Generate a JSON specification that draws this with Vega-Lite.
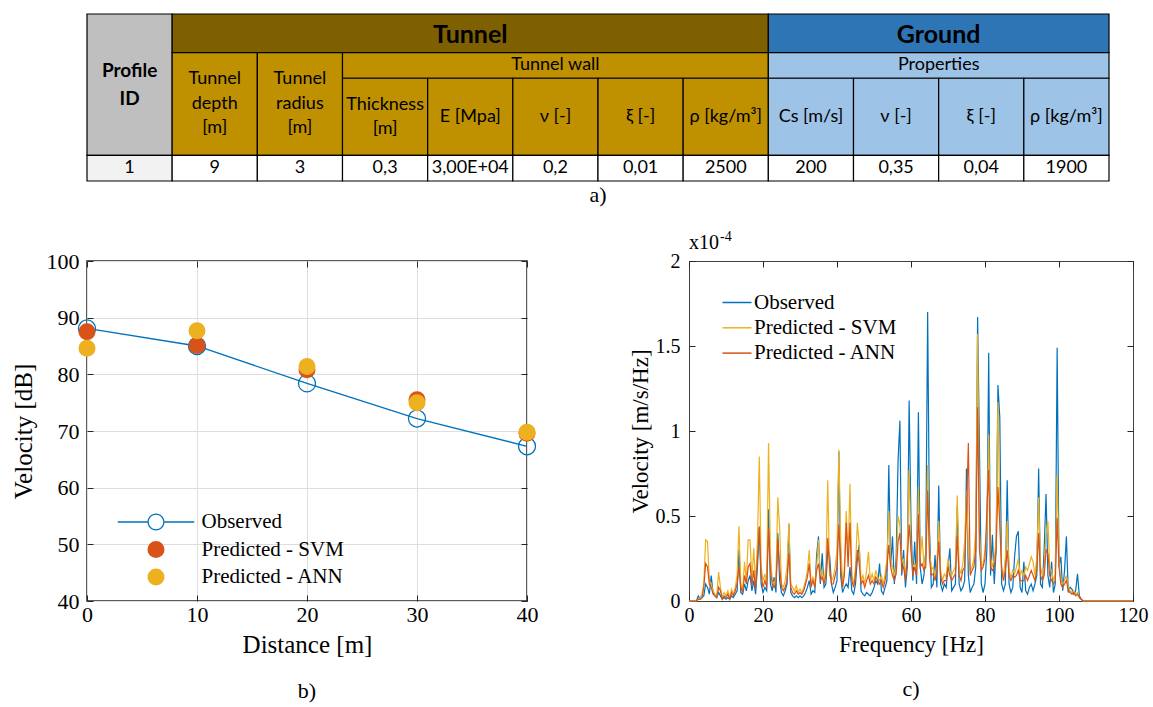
{
  "$schema": "https://vega.github.io/schema/vega-lite/v6.json",
  "background": "white",
  "padding": {"left": 10, "top": 13, "right": 5, "bottom": 0},
  "bounds": "flush",
  "spacing": 80,
  "config": {
    "view": {"stroke": null},
    "font": "Liberation Serif",
    "axis": {"labelFont": "Liberation Serif", "titleFont": "Liberation Serif", "labelColor": "#000000", "titleColor": "#000000", "titleFontWeight": "normal", "domain": false, "tickColor": "#262626", "tickWidth": 1, "tickSize": -6, "grid": false, "labelFlush": false, "labelOverlap": false},
    "legend": {"labelFont": "Liberation Serif", "labelColor": "#000000"},
    "title": {"font": "Liberation Serif", "fontWeight": "normal", "color": "#000000"}
  },
  "vconcat": [
    {
      "width": 1022,
      "height": 167,
      "title": {"text": "a)", "orient": "bottom", "offset": 3, "fontSize": 22, "font": "Liberation Serif"},
      "data": {"values": [
        {"c0": 0, "c1": 1, "r0": 0, "r1": 5.5, "cx": 0.5, "cy": 2.75, "kind": "id", "role": "id", "t": "Profile\nID"},
        {"c0": 1, "c1": 8, "r0": 0, "r1": 1.5, "cx": 4.5, "cy": 0.75, "kind": "tt", "role": "big", "t": "Tunnel"},
        {"c0": 8, "c1": 12, "r0": 0, "r1": 1.5, "cx": 10, "cy": 0.75, "kind": "gt", "role": "big", "t": "Ground"},
        {"c0": 1, "c1": 2, "r0": 1.5, "r1": 5.5, "cx": 1.5, "cy": 3.5, "kind": "t", "role": "n3", "t": "Tunnel\ndepth\n[m]"},
        {"c0": 2, "c1": 3, "r0": 1.5, "r1": 5.5, "cx": 2.5, "cy": 3.5, "kind": "t", "role": "n3", "t": "Tunnel\nradius\n[m]"},
        {"c0": 3, "c1": 8, "r0": 1.5, "r1": 2.5, "cx": 5.5, "cy": 2, "kind": "t", "role": "n", "t": "Tunnel wall"},
        {"c0": 8, "c1": 12, "r0": 1.5, "r1": 2.5, "cx": 10, "cy": 2, "kind": "g", "role": "n", "t": "Properties"},
        {"c0": 3, "c1": 4, "r0": 2.5, "r1": 5.5, "cx": 3.5, "cy": 4, "kind": "t", "role": "n2", "t": "Thickness\n[m]"},
        {"c0": 4, "c1": 5, "r0": 2.5, "r1": 5.5, "cx": 4.5, "cy": 4, "kind": "t", "role": "n", "t": "E [Mpa]"},
        {"c0": 5, "c1": 6, "r0": 2.5, "r1": 5.5, "cx": 5.5, "cy": 4, "kind": "t", "role": "n", "t": "ν [-]"},
        {"c0": 6, "c1": 7, "r0": 2.5, "r1": 5.5, "cx": 6.5, "cy": 4, "kind": "t", "role": "n", "t": "ξ [-]"},
        {"c0": 7, "c1": 8, "r0": 2.5, "r1": 5.5, "cx": 7.5, "cy": 4, "kind": "t", "role": "n", "t": "ρ [kg/m³]"},
        {"c0": 8, "c1": 9, "r0": 2.5, "r1": 5.5, "cx": 8.5, "cy": 4, "kind": "g", "role": "n", "t": "Cs [m/s]"},
        {"c0": 9, "c1": 10, "r0": 2.5, "r1": 5.5, "cx": 9.5, "cy": 4, "kind": "g", "role": "n", "t": "ν [-]"},
        {"c0": 10, "c1": 11, "r0": 2.5, "r1": 5.5, "cx": 10.5, "cy": 4, "kind": "g", "role": "n", "t": "ξ [-]"},
        {"c0": 11, "c1": 12, "r0": 2.5, "r1": 5.5, "cx": 11.5, "cy": 4, "kind": "g", "role": "n", "t": "ρ [kg/m³]"},
        {"c0": 0, "c1": 1, "r0": 5.5, "r1": 6.5, "cx": 0.5, "cy": 6, "kind": "v0", "role": "n", "t": "1"},
        {"c0": 1, "c1": 2, "r0": 5.5, "r1": 6.5, "cx": 1.5, "cy": 6, "kind": "v", "role": "n", "t": "9"},
        {"c0": 2, "c1": 3, "r0": 5.5, "r1": 6.5, "cx": 2.5, "cy": 6, "kind": "v", "role": "n", "t": "3"},
        {"c0": 3, "c1": 4, "r0": 5.5, "r1": 6.5, "cx": 3.5, "cy": 6, "kind": "v", "role": "n", "t": "0,3"},
        {"c0": 4, "c1": 5, "r0": 5.5, "r1": 6.5, "cx": 4.5, "cy": 6, "kind": "v", "role": "n", "t": "3,00E+04"},
        {"c0": 5, "c1": 6, "r0": 5.5, "r1": 6.5, "cx": 5.5, "cy": 6, "kind": "v", "role": "n", "t": "0,2"},
        {"c0": 6, "c1": 7, "r0": 5.5, "r1": 6.5, "cx": 6.5, "cy": 6, "kind": "v", "role": "n", "t": "0,01"},
        {"c0": 7, "c1": 8, "r0": 5.5, "r1": 6.5, "cx": 7.5, "cy": 6, "kind": "v", "role": "n", "t": "2500"},
        {"c0": 8, "c1": 9, "r0": 5.5, "r1": 6.5, "cx": 8.5, "cy": 6, "kind": "v", "role": "n", "t": "200"},
        {"c0": 9, "c1": 10, "r0": 5.5, "r1": 6.5, "cx": 9.5, "cy": 6, "kind": "v", "role": "n", "t": "0,35"},
        {"c0": 10, "c1": 11, "r0": 5.5, "r1": 6.5, "cx": 10.5, "cy": 6, "kind": "v", "role": "n", "t": "0,04"},
        {"c0": 11, "c1": 12, "r0": 5.5, "r1": 6.5, "cx": 11.5, "cy": 6, "kind": "v", "role": "n", "t": "1900"}
      ]},
      "layer": [
        {
          "mark": {"type": "rect", "stroke": "#000000", "strokeWidth": 1.2},
          "encoding": {
            "x": {"field": "c0", "type": "quantitative", "scale": {"domain": [0, 12], "nice": false}, "axis": null},
            "x2": {"field": "c1"},
            "y": {"field": "r0", "type": "quantitative", "scale": {"domain": [0, 6.5], "nice": false, "zero": false, "reverse": true}, "axis": null},
            "y2": {"field": "r1"},
            "fill": {"field": "kind", "type": "nominal", "scale": {"domain": ["id", "tt", "t", "gt", "g", "v0", "v"], "range": ["#bfbfbf", "#7f6000", "#bf9000", "#2e75b6", "#9dc3e6", "#f2f2f2", "#ffffff"]}, "legend": null}
          }
        },
        {
          "transform": [{"filter": "datum.role == 'n'"}],
          "mark": {"type": "text", "font": "Lato", "fontSize": 18, "align": "center", "baseline": "middle", "color": "#000000"},
          "encoding": {
            "x": {"field": "cx", "type": "quantitative"},
            "y": {"field": "cy", "type": "quantitative"},
            "text": {"field": "t"}
          }
        },
        {
          "transform": [{"filter": "datum.role == 'n2'"}],
          "mark": {"type": "text", "font": "Lato", "fontSize": 18, "lineBreak": "\n", "lineHeight": 24.5, "dy": -12.25, "align": "center", "baseline": "middle", "color": "#000000"},
          "encoding": {
            "x": {"field": "cx", "type": "quantitative"},
            "y": {"field": "cy", "type": "quantitative"},
            "text": {"field": "t"}
          }
        },
        {
          "transform": [{"filter": "datum.role == 'n3'"}],
          "mark": {"type": "text", "font": "Lato", "fontSize": 18, "lineBreak": "\n", "lineHeight": 24.5, "dy": -24.5, "align": "center", "baseline": "middle", "color": "#000000"},
          "encoding": {
            "x": {"field": "cx", "type": "quantitative"},
            "y": {"field": "cy", "type": "quantitative"},
            "text": {"field": "t"}
          }
        },
        {
          "transform": [{"filter": "datum.role == 'id'"}],
          "mark": {"type": "text", "font": "Lato", "fontSize": 19, "fontWeight": "bold", "lineBreak": "\n", "lineHeight": 28, "dy": -14, "align": "center", "baseline": "middle", "color": "#000000"},
          "encoding": {
            "x": {"field": "cx", "type": "quantitative"},
            "y": {"field": "cy", "type": "quantitative"},
            "text": {"field": "t"}
          }
        },
        {
          "transform": [{"filter": "datum.role == 'big'"}],
          "mark": {"type": "text", "font": "Lato", "fontSize": 25, "fontWeight": "bold", "align": "center", "baseline": "middle", "dy": 2, "color": "#000000"},
          "encoding": {
            "x": {"field": "cx", "type": "quantitative"},
            "y": {"field": "cy", "type": "quantitative"},
            "text": {"field": "t"}
          }
        }
      ]
    },
    {
      "bounds": "flush",
      "spacing": 162,
      "resolve": {"scale": {"color": "independent", "shape": "independent"}, "legend": {"color": "independent", "shape": "independent"}},
      "hconcat": [
        {
          "width": 440,
          "height": 340,
          "view": {"stroke": "#262626", "strokeWidth": 1.5},
          "title": {"text": "b)", "orient": "bottom", "offset": 24, "fontSize": 22, "font": "Liberation Serif"},
          "data": {"values": [
            {"d": 0, "k": "o", "v": 88.1}, {"d": 10, "k": "o", "v": 85.0}, {"d": 20, "k": "o", "v": 78.4}, {"d": 30, "k": "o", "v": 72.2}, {"d": 40, "k": "o", "v": 67.3},
            {"d": 0, "k": "s", "v": 87.5}, {"d": 10, "k": "s", "v": 85.1}, {"d": 20, "k": "s", "v": 80.8}, {"d": 30, "k": "s", "v": 75.5}, {"d": 40, "k": "s", "v": 69.6},
            {"d": 0, "k": "a", "v": 84.6}, {"d": 10, "k": "a", "v": 87.7}, {"d": 20, "k": "a", "v": 81.4}, {"d": 30, "k": "a", "v": 75.0}, {"d": 40, "k": "a", "v": 69.8}
          ]},
          "layer": [
            {
              "transform": [{"filter": "datum.k == 'o'"}],
              "mark": {"type": "line", "strokeWidth": 1.3},
              "encoding": {
                "x": {"field": "d", "type": "quantitative", "scale": {"domain": [0, 40], "nice": false}, "axis": {"values": [0, 10, 20, 30, 40], "title": "Distance [m]", "grid": true, "gridColor": "#dedede", "labelFontSize": 22, "labelPadding": 9, "titleFontSize": 25, "titlePadding": 7}},
                "y": {"field": "v", "type": "quantitative", "scale": {"domain": [40, 100], "nice": false, "zero": false}, "axis": {"values": [40, 50, 60, 70, 80, 90, 100], "title": "Velocity [dB]", "grid": true, "gridColor": "#dedede", "labelFontSize": 22, "labelPadding": 14, "titleFontSize": 25, "titlePadding": 10}},
                "color": {"field": "k", "type": "nominal", "scale": {"domain": ["o", "s", "a"], "range": ["#0072bd", "#d95319", "#edb120"]},
                  "legend": {"orient": "none", "legendX": 58.5, "legendY": 250.5, "title": null, "padding": 0, "symbolSize": 289, "symbolStrokeWidth": 0, "labelFontSize": 21, "labelOffset": 35, "rowPadding": 5.5, "symbolOpacity": 1,
                    "labelExpr": "datum.label == 'o' ? 'Observed' : datum.label == 's' ? 'Predicted - SVM' : 'Predicted - ANN'"}
                }
              }
            },
            {
              "transform": [{"filter": "datum.k == 'o'"}],
              "mark": {"type": "point", "filled": false, "size": 289, "strokeWidth": 1.3, "opacity": 1},
              "encoding": {
                "x": {"field": "d", "type": "quantitative", "axis": null},
                "y": {"field": "v", "type": "quantitative", "axis": null},
                "color": {"field": "k", "type": "nominal"}
              }
            },
            {
              "transform": [{"filter": "datum.k == 's'"}],
              "mark": {"type": "point", "filled": true, "size": 289, "opacity": 1},
              "encoding": {
                "x": {"field": "d", "type": "quantitative", "axis": null},
                "y": {"field": "v", "type": "quantitative", "axis": null},
                "color": {"field": "k", "type": "nominal"},
                "shape": {"field": "k", "type": "nominal", "scale": {"domain": ["o", "s", "a"], "range": ["M-1,0A1,1,0,1,1,1,0A1,1,0,1,1,-1,0ZM-0.85,0A0.85,0.85,0,1,0,0.85,0A0.85,0.85,0,1,0,-0.85,0ZM-4.5,-0.075L-1,-0.075L-1,0.075L-4.5,0.075ZM1,-0.075L4.5,-0.075L4.5,0.075L1,0.075Z", "circle", "circle"]}}
              }
            },
            {
              "transform": [{"filter": "datum.k == 'a'"}],
              "mark": {"type": "point", "filled": true, "size": 289, "opacity": 1},
              "encoding": {
                "x": {"field": "d", "type": "quantitative", "axis": null},
                "y": {"field": "v", "type": "quantitative", "axis": null},
                "color": {"field": "k", "type": "nominal"},
                "shape": {"field": "k", "type": "nominal"}
              }
            },
            {
              "mark": {"type": "point", "opacity": 0},
              "encoding": {
                "x": {"field": "d", "type": "quantitative", "axis": {"orient": "top", "values": [0, 10, 20, 30, 40], "labels": false, "title": null}},
                "y": {"field": "v", "type": "quantitative", "axis": {"orient": "right", "values": [40, 50, 60, 70, 80, 90, 100], "labels": false, "title": null}}
              }
            }
          ],
          "resolve": {"axis": {"x": "independent", "y": "independent"}}
        },
        {
          "width": 444,
          "height": 340,
          "view": {"stroke": "#404040", "strokeWidth": 1},
          "title": {"text": "c)", "orient": "bottom", "offset": 23, "fontSize": 22, "font": "Liberation Serif"},
          "data": {"values": [
            {"f":0,"o":0,"s":0,"a":0},{"f":2,"o":0,"s":0,"a":0},{"f":2.5,"o":0.03,"s":0.01,"a":0.01},{"f":3,"o":0.01,"s":0.02,"a":0.01},{"f":3.5,"o":0.02,"s":0.04,"a":0.02},
            {"f":4,"o":0.03,"s":0.1,"a":0.08},{"f":4.5,"o":0.1,"s":0.36,"a":0.22},{"f":5,"o":0.08,"s":0.35,"a":0.2},{"f":5.5,"o":0.04,"s":0.12,"a":0.1},{"f":6,"o":0.15,"s":0.1,"a":0.08},
            {"f":6.5,"o":0.05,"s":0.06,"a":0.04},{"f":7,"o":0.03,"s":0.04,"a":0.03},{"f":7.5,"o":0.02,"s":0.03,"a":0.02},{"f":8,"o":0.05,"s":0.17,"a":0.08},{"f":8.5,"o":0.03,"s":0.08,"a":0.06},
            {"f":9,"o":0.01,"s":0.02,"a":0.01},{"f":9.5,"o":0.02,"s":0.05,"a":0.03},{"f":10,"o":0.01,"s":0.03,"a":0.02},{"f":10.5,"o":0.02,"s":0.06,"a":0.04},{"f":11,"o":0.01,"s":0.02,"a":0.01},
            {"f":11.5,"o":0.03,"s":0.07,"a":0.05},{"f":12,"o":0.02,"s":0.04,"a":0.03},{"f":12.5,"o":0.04,"s":0.08,"a":0.06},{"f":13,"o":0.06,"s":0.15,"a":0.1},{"f":13.5,"o":0.3,"s":0.44,"a":0.2},
            {"f":14,"o":0.05,"s":0.1,"a":0.08},{"f":14.5,"o":0.04,"s":0.06,"a":0.05},{"f":15,"o":0.1,"s":0.23,"a":0.15},{"f":15.5,"o":0.06,"s":0.12,"a":0.1},{"f":16,"o":0.12,"s":0.36,"a":0.2},
            {"f":16.5,"o":0.15,"s":0.36,"a":0.22},{"f":17,"o":0.06,"s":0.12,"a":0.09},{"f":17.5,"o":0.12,"s":0.31,"a":0.18},{"f":18,"o":0.04,"s":0.1,"a":0.07},{"f":18.5,"o":0.2,"s":0.35,"a":0.25},
            {"f":19,"o":0.43,"s":0.85,"a":0.44},{"f":19.5,"o":0.1,"s":0.2,"a":0.15},{"f":20,"o":0.05,"s":0.12,"a":0.08},{"f":20.5,"o":0.08,"s":0.16,"a":0.12},{"f":21,"o":0.06,"s":0.1,"a":0.08},
            {"f":21.5,"o":0.54,"s":0.93,"a":0.43},{"f":22,"o":0.1,"s":0.28,"a":0.18},{"f":22.5,"o":0.06,"s":0.12,"a":0.1},{"f":23,"o":0.14,"s":0.1,"a":0.08},{"f":23.5,"o":0.05,"s":0.14,"a":0.1},
            {"f":24,"o":0.4,"s":0.61,"a":0.36},{"f":24.5,"o":0.12,"s":0.43,"a":0.2},{"f":25,"o":0.05,"s":0.1,"a":0.08},{"f":25.5,"o":0.03,"s":0.08,"a":0.06},{"f":26,"o":0.06,"s":0.12,"a":0.08},
            {"f":26.5,"o":0.1,"s":0.2,"a":0.12},{"f":27,"o":0.45,"s":0.46,"a":0.28},{"f":27.5,"o":0.05,"s":0.1,"a":0.08},{"f":28,"o":0.03,"s":0.08,"a":0.05},{"f":28.5,"o":0.02,"s":0.06,"a":0.04},
            {"f":29,"o":0.03,"s":0.09,"a":0.06},{"f":29.5,"o":0.02,"s":0.05,"a":0.04},{"f":30,"o":0.03,"s":0.07,"a":0.05},{"f":30.5,"o":0.02,"s":0.05,"a":0.04},{"f":31,"o":0.03,"s":0.08,"a":0.06},
            {"f":31.5,"o":0.05,"s":0.12,"a":0.1},{"f":32,"o":0.08,"s":0.18,"a":0.14},{"f":32.5,"o":0.12,"s":0.3,"a":0.22},{"f":33,"o":0.04,"s":0.1,"a":0.08},{"f":33.5,"o":0.06,"s":0.14,"a":0.12},
            {"f":34,"o":0.05,"s":0.1,"a":0.08},{"f":34.5,"o":0.27,"s":0.2,"a":0.18},{"f":35,"o":0.38,"s":0.36,"a":0.22},{"f":35.5,"o":0.1,"s":0.15,"a":0.12},{"f":36,"o":0.28,"s":0.18,"a":0.14},
            {"f":36.5,"o":0.08,"s":0.12,"a":0.1},{"f":37,"o":0.1,"s":0.2,"a":0.15},{"f":37.5,"o":0.3,"s":0.71,"a":0.37},{"f":38,"o":0.27,"s":0.15,"a":0.2},{"f":38.5,"o":0.1,"s":0.12,"a":0.1},
            {"f":39,"o":0.05,"s":0.14,"a":0.1},{"f":39.5,"o":0.08,"s":0.2,"a":0.15},{"f":40,"o":0.12,"s":0.3,"a":0.2},{"f":40.5,"o":0.88,"s":0.89,"a":0.45},{"f":41,"o":0.15,"s":0.35,"a":0.2},
            {"f":41.5,"o":0.05,"s":0.1,"a":0.08},{"f":42,"o":0.08,"s":0.2,"a":0.15},{"f":42.5,"o":0.1,"s":0.53,"a":0.46},{"f":43,"o":0.08,"s":0.25,"a":0.2},{"f":43.5,"o":0.2,"s":0.69,"a":0.46},
            {"f":44,"o":0.06,"s":0.15,"a":0.12},{"f":44.5,"o":0.04,"s":0.1,"a":0.08},{"f":45,"o":0.1,"s":0.2,"a":0.15},{"f":45.5,"o":0.25,"s":0.46,"a":0.3},{"f":46,"o":0.33,"s":0.33,"a":0.22},
            {"f":46.5,"o":0.06,"s":0.12,"a":0.1},{"f":47,"o":0.04,"s":0.15,"a":0.12},{"f":47.5,"o":0.03,"s":0.1,"a":0.08},{"f":48,"o":0.05,"s":0.18,"a":0.12},{"f":48.5,"o":0.04,"s":0.29,"a":0.15},
            {"f":49,"o":0.03,"s":0.12,"a":0.1},{"f":49.5,"o":0.05,"s":0.16,"a":0.12},{"f":50,"o":0.08,"s":0.12,"a":0.1},{"f":50.5,"o":0.12,"s":0.18,"a":0.14},{"f":51,"o":0.1,"s":0.14,"a":0.12},
            {"f":51.5,"o":0.22,"s":0.12,"a":0.1},{"f":52,"o":0.06,"s":0.15,"a":0.12},{"f":52.5,"o":0.04,"s":0.1,"a":0.08},{"f":53,"o":0.08,"s":0.16,"a":0.12},{"f":53.5,"o":0.12,"s":0.25,"a":0.2},
            {"f":54,"o":0.8,"s":0.53,"a":0.33},{"f":54.5,"o":0.2,"s":0.25,"a":0.2},{"f":55,"o":0.38,"s":0.2,"a":0.15},{"f":55.5,"o":0.1,"s":0.15,"a":0.12},{"f":56,"o":0.26,"s":0.2,"a":0.16},
            {"f":56.5,"o":0.82,"s":0.5,"a":0.35},{"f":57,"o":1.06,"s":0.45,"a":0.4},{"f":57.5,"o":0.15,"s":0.22,"a":0.18},{"f":58,"o":0.3,"s":0.25,"a":0.2},{"f":58.5,"o":0.08,"s":0.15,"a":0.12},
            {"f":59,"o":0.2,"s":0.3,"a":0.25},{"f":59.5,"o":1.18,"s":0.77,"a":0.45},{"f":60,"o":0.46,"s":0.3,"a":0.3},{"f":60.5,"o":0.12,"s":0.2,"a":0.15},{"f":61,"o":0.35,"s":0.22,"a":0.2},
            {"f":61.5,"o":0.1,"s":0.18,"a":0.15},{"f":62,"o":1.11,"s":0.67,"a":0.51},{"f":62.5,"o":0.2,"s":0.25,"a":0.2},{"f":63,"o":0.1,"s":0.38,"a":0.22},{"f":63.5,"o":0.15,"s":0.2,"a":0.18},
            {"f":64,"o":0.3,"s":0.25,"a":0.2},{"f":64.5,"o":1.7,"s":0.8,"a":0.65},{"f":65,"o":0.42,"s":0.3,"a":0.25},{"f":65.5,"o":0.08,"s":0.18,"a":0.15},{"f":66,"o":0.1,"s":0.2,"a":0.16},
            {"f":66.5,"o":0.27,"s":0.15,"a":0.12},{"f":67,"o":0.08,"s":0.2,"a":0.18},{"f":67.5,"o":0.68,"s":0.47,"a":0.35},{"f":68,"o":0.1,"s":0.18,"a":0.15},{"f":68.5,"o":0.06,"s":0.12,"a":0.1},
            {"f":69,"o":0.1,"s":0.16,"a":0.12},{"f":69.5,"o":0.08,"s":0.14,"a":0.12},{"f":70,"o":0.2,"s":0.25,"a":0.2},{"f":70.5,"o":0.31,"s":0.18,"a":0.15},{"f":71,"o":0.06,"s":0.15,"a":0.12},
            {"f":71.5,"o":0.08,"s":0.18,"a":0.14},{"f":72,"o":0.1,"s":0.2,"a":0.16},{"f":72.5,"o":0.56,"s":0.62,"a":0.38},{"f":73,"o":0.1,"s":0.2,"a":0.15},{"f":73.5,"o":0.06,"s":0.16,"a":0.12},
            {"f":74,"o":0.08,"s":0.22,"a":0.18},{"f":74.5,"o":0.12,"s":0.35,"a":0.2},{"f":75,"o":0.78,"s":0.65,"a":0.53},{"f":75.5,"o":0.15,"s":0.3,"a":0.93},{"f":76,"o":0.05,"s":0.18,"a":0.15},
            {"f":76.5,"o":0.08,"s":0.2,"a":0.18},{"f":77,"o":0.1,"s":0.25,"a":0.2},{"f":77.5,"o":0.2,"s":0.43,"a":0.3},{"f":78,"o":1.67,"s":1.57,"a":1.14},{"f":78.5,"o":0.9,"s":0.4,"a":0.3},
            {"f":79,"o":0.1,"s":0.2,"a":0.18},{"f":79.5,"o":0.05,"s":0.22,"a":0.2},{"f":80,"o":0.1,"s":0.3,"a":0.25},{"f":80.5,"o":0.3,"s":0.43,"a":0.53},{"f":81,"o":1.46,"s":0.98,"a":0.77},
            {"f":81.5,"o":0.15,"s":0.25,"a":0.2},{"f":82,"o":0.39,"s":0.2,"a":0.18},{"f":82.5,"o":0.1,"s":0.25,"a":0.2},{"f":83,"o":0.3,"s":0.35,"a":0.3},{"f":83.5,"o":1.27,"s":1.17,"a":0.67},
            {"f":84,"o":1.08,"s":0.5,"a":0.45},{"f":84.5,"o":0.1,"s":0.2,"a":0.18},{"f":85,"o":0.06,"s":0.15,"a":0.12},{"f":85.5,"o":0.1,"s":0.25,"a":0.18},{"f":86,"o":0.71,"s":0.47,"a":0.3},
            {"f":86.5,"o":0.1,"s":0.18,"a":0.15},{"f":87,"o":0.05,"s":0.14,"a":0.12},{"f":87.5,"o":0.08,"s":0.18,"a":0.15},{"f":88,"o":0.26,"s":0.16,"a":0.14},{"f":88.5,"o":0.38,"s":0.2,"a":0.15},
            {"f":89,"o":0.41,"s":0.25,"a":0.18},{"f":89.5,"o":0.08,"s":0.15,"a":0.12},{"f":90,"o":0.05,"s":0.18,"a":0.12},{"f":90.5,"o":0.23,"s":0.15,"a":0.12},{"f":91,"o":0.06,"s":0.2,"a":0.15},
            {"f":91.5,"o":0.04,"s":0.18,"a":0.12},{"f":92,"o":0.08,"s":0.22,"a":0.15},{"f":92.5,"o":0.1,"s":0.26,"a":0.18},{"f":93,"o":0.06,"s":0.23,"a":0.15},{"f":93.5,"o":0.1,"s":0.15,"a":0.12},
            {"f":94,"o":0.15,"s":0.25,"a":0.18},{"f":94.5,"o":0.78,"s":0.61,"a":0.4},{"f":95,"o":0.1,"s":0.2,"a":0.15},{"f":95.5,"o":0.08,"s":0.15,"a":0.12},{"f":96,"o":0.31,"s":0.2,"a":0.15},
            {"f":96.5,"o":0.63,"s":0.4,"a":0.3},{"f":97,"o":0.15,"s":0.47,"a":0.28},{"f":97.5,"o":0.08,"s":0.2,"a":0.15},{"f":98,"o":0.23,"s":0.18,"a":0.12},{"f":98.5,"o":0.05,"s":0.12,"a":0.1},
            {"f":99,"o":0.1,"s":0.16,"a":0.12},{"f":99.5,"o":1.49,"s":0.74,"a":0.49},{"f":100,"o":0.2,"s":0.25,"a":0.2},{"f":100.5,"o":0.26,"s":0.12,"a":0.1},{"f":101,"o":0.06,"s":0.1,"a":0.08},
            {"f":101.5,"o":0.18,"s":0.12,"a":0.1},{"f":102,"o":0.38,"s":0.15,"a":0.12},{"f":102.5,"o":0.05,"s":0.08,"a":0.06},{"f":103,"o":0.08,"s":0.06,"a":0.05},{"f":103.5,"o":0.07,"s":0.05,"a":0.04},
            {"f":104,"o":0.04,"s":0.06,"a":0.05},{"f":104.5,"o":0.06,"s":0.04,"a":0.03},{"f":105,"o":0.16,"s":0.05,"a":0.04},{"f":105.5,"o":0.03,"s":0.02,"a":0.02},{"f":106,"o":0.01,"s":0.01,"a":0.01},
            {"f":106.5,"o":0,"s":0,"a":0},{"f":120,"o":0,"s":0,"a":0}
          ]},
          "layer": [
            {
              "transform": [{"fold": ["o", "s", "a"], "as": ["k", "v"]}, {"filter": "datum.k == 'o'"}],
              "mark": {"type": "line", "strokeWidth": 1.2},
              "encoding": {
                "x": {"field": "f", "type": "quantitative", "scale": {"domain": [0, 120], "nice": false}, "axis": {"values": [0, 20, 40, 60, 80, 100, 120], "title": "Frequency [Hz]", "labelFontSize": 20, "labelPadding": 10, "titleFontSize": 23, "titlePadding": 8}},
                "y": {"field": "v", "type": "quantitative", "scale": {"domain": [0, 2], "nice": false}, "axis": {"values": [0, 0.5, 1, 1.5, 2], "format": "~g", "title": "Velocity [m/s/Hz]", "labelFontSize": 20, "labelPadding": 15, "titleFontSize": 23, "titlePadding": 3}},
                "color": {"field": "k", "type": "nominal", "scale": {"domain": ["o", "s", "a"], "range": ["#0072bd", "#edb120", "#d95319"]},
                  "legend": {"orient": "none", "legendX": 37.5, "legendY": 31, "title": null, "padding": 0, "symbolType": "M-2.9,0L2.9,0", "symbolSize": 100, "symbolStrokeWidth": 1.5, "labelFontSize": 21, "labelOffset": 6.5, "rowPadding": 3.3,
                    "labelExpr": "datum.label == 'o' ? 'Observed' : datum.label == 's' ? 'Predicted - SVM' : 'Predicted - ANN'"}
                }
              }
            },
            {
              "transform": [{"fold": ["o", "s", "a"], "as": ["k", "v"]}, {"filter": "datum.k == 's'"}],
              "mark": {"type": "line", "strokeWidth": 1.2},
              "encoding": {
                "x": {"field": "f", "type": "quantitative", "axis": null},
                "y": {"field": "v", "type": "quantitative", "axis": null},
                "color": {"field": "k", "type": "nominal"}
              }
            },
            {
              "transform": [{"fold": ["o", "s", "a"], "as": ["k", "v"]}, {"filter": "datum.k == 'a'"}],
              "mark": {"type": "line", "strokeWidth": 1.2},
              "encoding": {
                "x": {"field": "f", "type": "quantitative", "axis": null},
                "y": {"field": "v", "type": "quantitative", "axis": null},
                "color": {"field": "k", "type": "nominal"}
              }
            },
            {
              "data": {"values": [{"t": "x10"}]},
              "mark": {"type": "text", "align": "left", "baseline": "alphabetic", "dy": -12, "fontSize": 20, "font": "Liberation Serif", "color": "#000000"},
              "encoding": {
                "x": {"datum": 0, "type": "quantitative", "axis": null},
                "y": {"datum": 2, "type": "quantitative", "axis": null},
                "text": {"field": "t"}
              }
            },
            {
              "data": {"values": [{"t": "-4"}]},
              "mark": {"type": "text", "align": "left", "baseline": "alphabetic", "dx": 31, "dy": -20, "fontSize": 14, "font": "Liberation Serif", "color": "#000000"},
              "encoding": {
                "x": {"datum": 0, "type": "quantitative", "axis": null},
                "y": {"datum": 2, "type": "quantitative", "axis": null},
                "text": {"field": "t"}
              }
            },
            {
              "mark": {"type": "point", "opacity": 0},
              "encoding": {
                "x": {"field": "f", "type": "quantitative", "axis": {"orient": "top", "values": [0, 20, 40, 60, 80, 100, 120], "labels": false, "title": null}},
                "y": {"field": "o", "type": "quantitative", "axis": {"orient": "right", "values": [0, 0.5, 1, 1.5, 2], "labels": false, "title": null}}
              }
            }
          ],
          "resolve": {"axis": {"x": "independent", "y": "independent"}}
        }
      ]
    }
  ]
}
